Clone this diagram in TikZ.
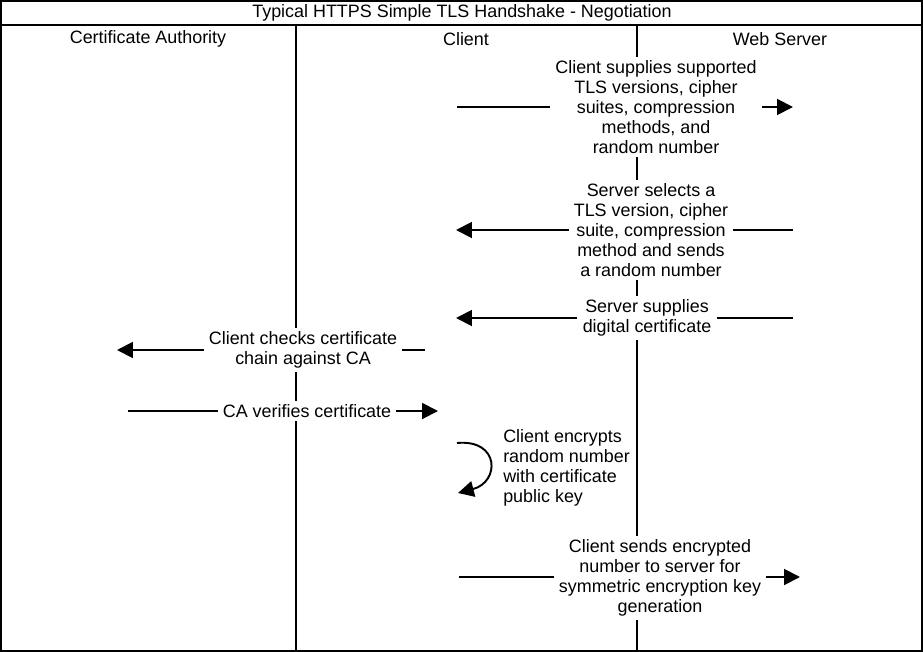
\documentclass[tikz,border=0pt]{standalone}
\usepackage{fontspec}
\setmainfont{Liberation Sans}
\usetikzlibrary{arrows.meta,positioning}

\tikzset{
  lane/.style={line width=1.1pt},
  msg/.style={line width=1.1pt,-{Triangle[length=9pt,width=9pt]}},
  note/.style={fill=white,align=center,inner xsep=2.8pt,inner ysep=2pt,
               font=\fontsize{10.2}{11.4}\selectfont},
  head/.style={font=\fontsize{10.2}{11.4}\selectfont},
}

\begin{document}
\begin{tikzpicture}[x=0.02cm,y=-0.02cm]
        \useasboundingbox (0,0) rectangle (923,652);

        % frame and lanes
        \draw[lane] (1,1) rectangle (922,651);
        \draw[lane] (1,25) -- (922,25);
        \draw[lane] (296,25) -- (296,651);
        \draw[lane] (637,25) -- (637,651);

        \node[head] (title) at (462,13) {Typical HTTPS Simple TLS Handshake - Negotiation};
        \node[head] (ca) at (148,39) {Certificate Authority};
        \node[head] (client) at (466,39) {Client};
        \node[head] (server) at (780,39) {Web Server};

        % client hello
        \node[note] (hello) at (656,107) {Client supplies supported\\TLS versions, cipher\\suites, compression\\methods, and\\random number};
        \coordinate (hellos) at (457,107);
        \coordinate (helloe) at (793,107);
        \draw[lane] (hellos) -- (hello);
        \draw[msg] (hello) -- (helloe);

        % server hello
        \node[note] (select) at (651,230) {Server selects a\\TLS version, cipher\\suite, compression\\method and sends\\a random number};
        \coordinate (selects) at (793,230);
        \coordinate (selecte) at (456,230);
        \draw[lane] (selects) -- (select);
        \draw[msg] (select) -- (selecte);

        % certificate
        \node[note] (cert) at (647,318) {Server supplies\\digital certificate};
        \coordinate (certs) at (793,318);
        \coordinate (certe) at (456,318);
        \draw[lane] (certs) -- (cert);
        \draw[msg] (cert) -- (certe);

        % chain check
        \node[note] (check) at (303,350) {Client checks certificate\\chain against CA};
        \coordinate (checks) at (425,350);
        \coordinate (checke) at (117,350);
        \draw[lane] (checks) -- (check);
        \draw[msg] (check) -- (checke);

        \node[note] (verify) at (307,411) {CA verifies certificate};
        \coordinate (verifys) at (128,411);
        \coordinate (verifye) at (438,411);
        \draw[lane] (verifys) -- (verify);
        \draw[msg] (verify) -- (verifye);

        % encrypt on client
        \node[note,align=left,anchor=west] (encrypt) at (498,468) {Client encrypts\\random number\\with certificate\\public key};
        \coordinate (loops) at (457,443);
        \coordinate (loope) at (458,493);
        \draw[msg] (loops) .. controls (500,439) and (500,482) .. (loope);

        % key exchange
        \node[note] (keyx) at (660,578) {Client sends encrypted\\number to server for\\symmetric encryption key\\generation};
        \coordinate (keyxs) at (459,577);
        \coordinate (keyxe) at (800,577);
        \draw[lane] (keyxs) -- (keyxs -| keyx.west);
        \draw[msg] (keyxs -| keyx.east) -- (keyxe);
\end{tikzpicture}
\end{document}
